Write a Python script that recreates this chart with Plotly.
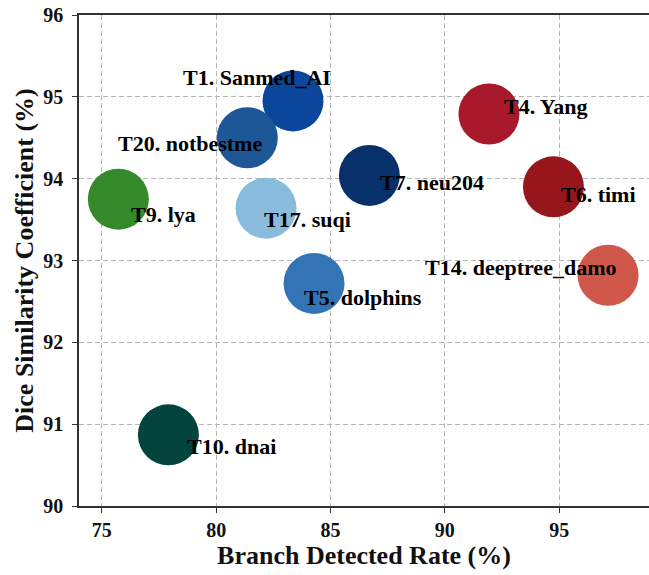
import plotly.graph_objects as go

# team results
teams = ["T1. Sanmed_AI", "T20. notbestme", "T9. lya", "T17. suqi", "T5. dolphins",
         "T10. dnai", "T7. neu204", "T4. Yang", "T6. timi", "T14. deeptree_damo"]
branch_rate = [83.36, 81.36, 75.72, 82.18, 84.28, 77.91, 86.70, 91.93, 94.75, 97.14]
dice = [94.95, 94.50, 93.75, 93.64, 92.72, 90.87, 94.04, 94.79, 93.90, 92.82]
colors = ["#0b469d", "#1d5797", "#34892a", "#89bcdc", "#3274b5",
          "#03443c", "#08306b", "#a8192c", "#97161c", "#d0584a"]

x_ticks = [75, 80, 85, 90, 95]
y_ticks = [90, 91, 92, 93, 94, 95, 96]

# label placement (anchor side, x shift, y shift in px)
label_pos = [("right", 40, 23), ("right", 17, -6), ("left", 11, -15), ("left", -4, -11),
             ("left", -12, -14), ("left", 17, -12), ("left", 9, -7), ("left", 13, 8),
             ("left", 6, -8), ("right", 10, 8)]

FONT = "Liberation Serif"

fig = go.Figure()
fig.add_trace(go.Scatter(
    x=branch_rate, y=dice, mode="markers",
    marker=dict(size=61, color=colors, line=dict(width=0)),
    hovertext=teams, showlegend=False,
))

for name, xv, yv, (anchor, dx, dy) in zip(teams, branch_rate, dice, label_pos):
    fig.add_annotation(x=xv, y=yv, text=name, showarrow=False,
                       xanchor=anchor, yanchor="middle", xshift=dx, yshift=dy,
                       font=dict(family=FONT, size=22, color="black", weight="bold"))

axis_common = dict(
    showgrid=True, gridcolor="#b5b5b5", griddash="5px,3px", gridwidth=1,
    showline=True, linecolor="#333333", linewidth=1.5,
    ticks="outside", ticklen=5, tickwidth=1.2, tickcolor="#333333",
    tickfont=dict(family=FONT, size=20, color="#111111", weight="bold"),
    zeroline=False, automargin=False,
)

fig.update_xaxes(range=[74, 98.93], tickvals=x_ticks, mirror=True,
                 title=dict(text="Branch Detected Rate (%)", standoff=6,
                            font=dict(family=FONT, size=26, color="#111111", weight="bold")),
                 **axis_common)
fig.update_yaxes(range=[90, 96], tickvals=y_ticks, ticklabelstandoff=5,
                 title=dict(text="Dice Similarity Coefficient (%)", standoff=2,
                            font=dict(family=FONT, size=26, color="#111111", weight="bold")),
                 **axis_common)

fig.update_layout(
    width=649, height=575,
    margin=dict(l=79, r=0, t=15, b=69),
    plot_bgcolor="white", paper_bgcolor="white",
)

# drop the default 8px page margin so the figure fills the window
fig.write_html("out.html", config={"displayModeBar": False},
               post_script="document.body.style.margin='0';")
